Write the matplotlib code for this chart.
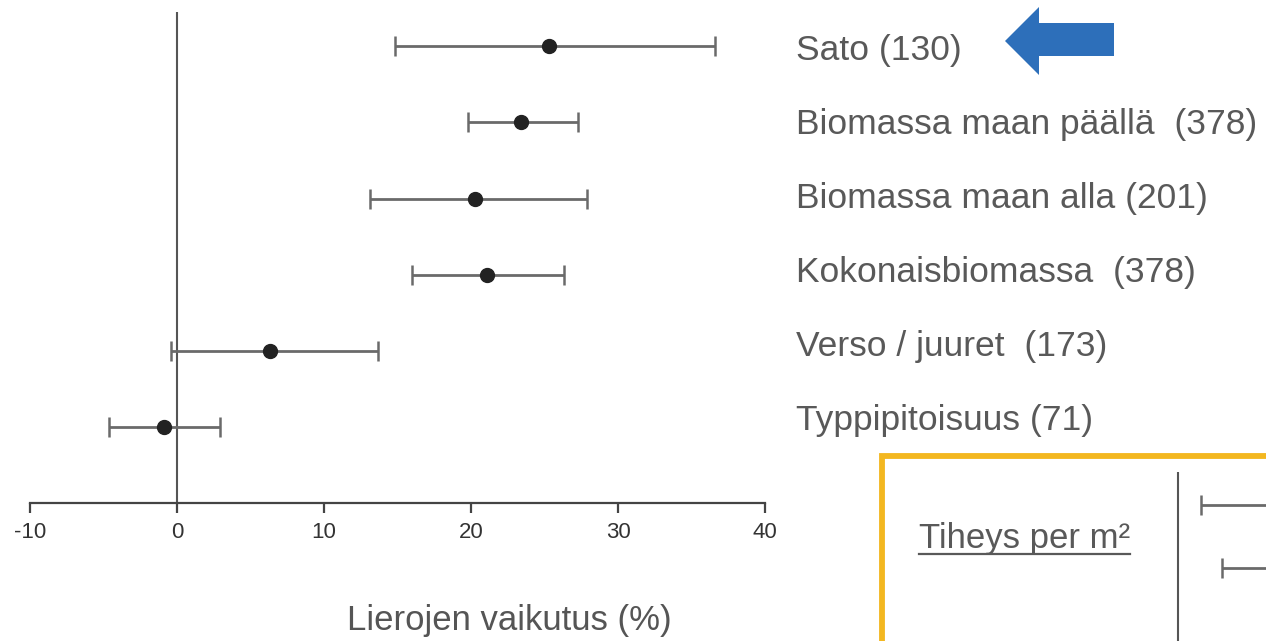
import matplotlib
matplotlib.use("Agg")
import matplotlib.pyplot as plt
from matplotlib.patches import Rectangle, Polygon
from matplotlib.lines import Line2D

plt.rcParams['font.family'] = ['Liberation Sans', 'DejaVu Sans']

# data: effect of earthworms (%) with confidence intervals
labels = ["Sato (130)", "Biomassa maan päällä  (378)", "Biomassa maan alla (201)",
          "Kokonaisbiomassa  (378)", "Verso / juuret  (173)", "Typpipitoisuus (71)"]
effect = [25.3, 23.4, 20.3, 21.1, 6.3, -0.9]
ci_low = [14.8, 19.8, 13.1, 16.0, -0.4, -4.6]
ci_high = [36.6, 27.3, 27.9, 26.3, 13.7, 2.9]
xticks = [-10, 0, 10, 20, 30, 40]

# second (cut-off) panel: density per m2
dens_effect = [14.0, 16.0]
dens_low = [1.6, 3.0]
dens_high = [27.0, 29.0]

W, H = 1266, 641
fig = plt.figure(figsize=(W / 100, H / 100), dpi=100)

def fx(px):
    return px / W

def fy(py):
    return 1 - py / H

ax = fig.add_axes([fx(30), fy(503), fx(765) - fx(30), fy(12) - fy(503)])
rows = list(range(len(labels), 0, -1))
err = [[e - l for e, l in zip(effect, ci_low)], [h - e for e, h in zip(effect, ci_high)]]
ax.errorbar(effect, rows, xerr=err, fmt='o', color='#222222', ecolor='#6a6a6a',
            elinewidth=2.0, capsize=7.5, capthick=1.8, markersize=10, zorder=3)
ax.axvline(0, color='#555555', lw=1.5, zorder=1)
ax.set_xlim(-10, 40)
ax.set_ylim(0, 6.45)
for s in ['top', 'right', 'left']:
    ax.spines[s].set_visible(False)
ax.spines['bottom'].set_color('#444444')
ax.spines['bottom'].set_linewidth(1.6)
ax.set_yticks([])
ax.set_xticks(xticks)
ax.set_xticklabels([str(t) for t in xticks])
ax.tick_params(axis='x', length=7, width=1.6, color='#444444', labelsize=16,
               labelcolor='#333333', pad=7)
ax.set_xlabel("Lierojen vaikutus (%)", fontsize=25, color='#555555')
ax.xaxis.set_label_coords(0.652, -0.205)

for i, lab in enumerate(labels):
    ax.text(42.1, rows[i] - 0.06 + 0.028 * i, lab, fontsize=25.5, color='#595959',
            va='center', ha='left', clip_on=False)

# blue arrow pointing at "Sato"
arrow = [(1005, 41), (1039, 7), (1039, 23), (1114, 23), (1114, 56), (1039, 56), (1039, 75)]
fig.add_artist(Polygon([(fx(x), fy(y)) for x, y in arrow], closed=True,
                       facecolor='#2D6FBA', edgecolor='none', transform=fig.transFigure))

# gold frame of the density panel (cut off by the figure edge)
fig.add_artist(Rectangle((fx(882), fy(700)), fx(600), fy(456) - fy(700), fill=False,
                         edgecolor='#F3B720', linewidth=4.2, transform=fig.transFigure))

t = fig.text(fx(919), fy(548), "Tiheys per m²", fontsize=25, color='#595959',
             ha='left', va='baseline')
fig.canvas.draw()
bb = t.get_window_extent()
fig.add_artist(Line2D([bb.x0 / W, bb.x1 / W], [fy(554), fy(554)], color='#595959',
                      lw=1.6, transform=fig.transFigure))

ax2 = fig.add_axes([fx(1150), 0, fx(1266) - fx(1150), fy(472)])
ax2.set_xlim(-1.9, 6.0)
ax2.set_ylim(-0.16, 2.52)
drows = [2, 1]
derr = [[e - l for e, l in zip(dens_effect, dens_low)], [h - e for e, h in zip(dens_effect, dens_high)]]
ax2.errorbar(dens_effect, drows, xerr=derr, fmt='o', color='#222222', ecolor='#6a6a6a',
             elinewidth=2.0, capsize=7.5, capthick=1.8, markersize=10)
ax2.axvline(0, color='#555555', lw=1.5)
ax2.axis('off')

fig.savefig("out.png", dpi=100)
